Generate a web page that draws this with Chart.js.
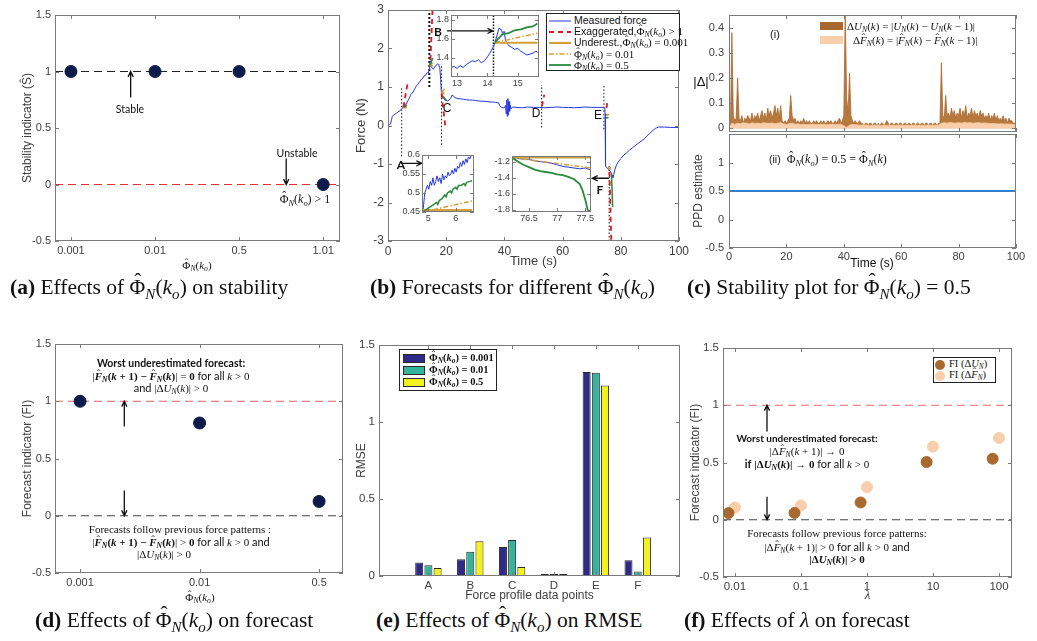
<!DOCTYPE html>
<html>
<head>
<meta charset="utf-8">
<script src="https://cdn.jsdelivr.net/npm/chart.js@4.4.1/dist/chart.umd.min.js"></script>
<style>
  body { margin: 0; background: #fff; }
  #fig { position: relative; width: 1037px; height: 641px; overflow: hidden; background: #fff; font-family: 'Liberation Sans', Arial, sans-serif; color: #111; }
  #fig canvas { position: absolute; }
  .ov { position: absolute; white-space: nowrap; line-height: 1; transform: translate(-50%, -50%); }
  .m { font-family: 'Liberation Serif', 'DejaVu Serif', serif; }
  .lab { font-family: Lato, 'Open Sans', sans-serif; }
  .cap { font-family: 'Liberation Serif', serif; font-size: 21.5px; transform: translate(0, -50%); }
  sub { font-size: 70%; vertical-align: -0.3em; line-height: 0; }
  .hat { position: relative; display: inline-block; }
  .hat::after { content: '\02C6'; position: absolute; left: 50%; top: -0.28em; transform: translateX(-45%); font-style: normal; font-weight: normal; }
  .leg { position: absolute; background: #fff; border: 1px solid #222; box-sizing: border-box; }
</style>
</head>
<body>
<div id="fig"></div>
<script>
// ---------- data ----------
// (a) stability indicator
const aLabels = ['0.001', '0.01', '0.5', '1.01'];
const aStability = [1, 1, 1, 0];
const aStableLevel = 1, aUnstableLevel = 0;

// (b) measured force (t, N)
const forcePts = [[0,0.02],[0.5,0.03],[0.9,0.04],[1.2,0.15],[1.5,0.24],[2,0.28],[2.5,0.3],[3,0.32],[3.5,0.36],[4,0.37],[4.5,0.42],[5,0.45],[5.3,0.5],[5.6,0.5],[6,0.56],[6.3,0.55],[6.6,0.61],[7,0.66],[7.4,0.72],[7.8,0.8],[8.2,0.84],[8.6,0.86],[9,0.93],[9.4,0.98],[9.8,1.04],[10.2,1.06],[10.6,1.12],[11,1.14],[11.4,1.2],[11.8,1.21],[12.2,1.26],[12.6,1.3],[13,1.31],[13.3,1.36],[13.6,1.37],[13.9,1.36],[14.1,1.46],[14.3,1.55],[14.5,1.68],[14.7,1.62],[14.9,1.52],[15.2,1.49],[15.6,1.46],[16,1.52],[16.5,1.56],[17,1.6],[17.4,1.59],[17.8,1.5],[18.1,1.2],[18.3,0.9],[18.6,0.8],[19,0.72],[19.5,0.66],[20,0.65],[20.5,0.64],[21,0.66],[21.5,0.7],[22,0.79],[22.5,0.77],[23,0.72],[24,0.7],[25,0.69],[26,0.68],[27,0.67],[28,0.66],[29,0.66],[30,0.65],[31,0.64],[32,0.63],[33,0.63],[34,0.62],[35,0.61],[36,0.61],[37,0.6],[38,0.59],[38.5,0.5],[39,0.47],[39.5,0.46],[40,0.46],[40.4,0.52],[40.6,0.3],[40.8,0.66],[41,0.24],[41.2,0.7],[41.4,0.28],[41.6,0.62],[41.8,0.37],[42,0.53],[42.3,0.43],[42.8,0.48],[44,0.47],[46,0.46],[48,0.48],[50,0.47],[52,0.47],[54,0.46],[56,0.47],[58,0.48],[60,0.47],[62,0.47],[64,0.46],[66,0.47],[68,0.48],[70,0.47],[72,0.47],[74,0.47],[74.5,0.46],[74.6,0.3],[74.7,-0.3],[74.8,-1.05],[75.2,-1.1],[75.6,-1.12],[76,-1.15],[76.5,-1.2],[77,-1.29],[77.3,-1.35],[77.6,-1.27],[78,-1.14],[78.5,-1.03],[79,-0.96],[80,-0.86],[81,-0.77],[82,-0.71],[83,-0.64],[84,-0.58],[85,-0.52],[86,-0.46],[87,-0.41],[88,-0.35],[89,-0.27],[90,-0.2],[91,-0.13],[92,-0.07],[93,-0.04],[95,-0.04],[97,-0.05],[100,-0.05]];
// forecast segments [t0, y0, t1, y1]
const exagSegs = [[5.3,0.48,6.8,1.13],[14.6,1.7,15.4,3.2],[18.4,0.83,19.8,-0.1],[52.9,0.5,53.7,0.8],[75.1,0.45,75.4,0.65],[76.1,-1.2,76.8,-3.2]];
const under001Segs = [[5.3,0.47,6.5,0.47],[14.3,1.55,15.4,1.55],[18.4,0.84,19.4,0.84],[74.9,0.27,75.8,0.27],[75.6,-1.1,76.6,-1.1]];
const under01Segs = [[5.3,0.47,6.5,0.5],[14.3,1.55,15.4,1.63],[18.4,0.85,19.6,0.97],[74.9,0.25,75.8,0.3],[75.8,-1.1,76.6,-1.15]];
const phi05Segs = [[5.3,0.47,6.5,0.53],[14.3,1.55,15.4,1.75],[18.4,0.8,20,0.66],[74.9,0.2,75.8,0.2],[76.8,-1.25,77.2,-2.12]];
// forecast start markers [t, yFrom, yTo]
const markerLines = [[4.7,-0.8,0.97],[18.4,-0.5,1.6],[52.8,-0.05,1.05],[74.2,-0.1,1.05],[76,-3,-1.03]];
const markerB = [[14.2,1.0,3]];
// inset A
const insAForce = [[4.8,0.45],[4.83,0.47],[4.87,0.5],[4.92,0.51],[4.97,0.52],[5.02,0.51],[5.07,0.53],[5.12,0.52],[5.17,0.54],[5.22,0.52],[5.27,0.53],[5.32,0.545],[5.37,0.53],[5.42,0.54],[5.47,0.525],[5.52,0.55],[5.57,0.535],[5.62,0.545],[5.67,0.54],[5.72,0.555],[5.77,0.545],[5.82,0.55],[5.87,0.56],[5.92,0.55],[5.97,0.565],[6.02,0.555],[6.07,0.57],[6.12,0.565],[6.17,0.58],[6.22,0.57],[6.27,0.585],[6.32,0.575],[6.37,0.59],[6.42,0.58],[6.47,0.595],[6.52,0.59],[6.57,0.6],[6.62,0.605]];
const insAPhi05 = [[4.8,0.45],[4.9,0.455],[5.0,0.46],[5.1,0.465],[5.2,0.47],[5.3,0.475],[5.35,0.47],[5.4,0.48],[5.5,0.485],[5.6,0.495],[5.65,0.49],[5.7,0.5],[5.8,0.505],[5.85,0.5],[5.9,0.51],[6.0,0.515],[6.05,0.51],[6.1,0.52],[6.2,0.52],[6.3,0.525],[6.35,0.52],[6.4,0.528],[6.5,0.53],[6.6,0.532]];
const insAUnder01 = [[4.8,0.45],[6.6,0.479]];
const insAUnder001 = [[4.8,0.455],[6.6,0.455]];
// inset B
const insBForce = [[12.8,1.3],[12.9,1.31],[13,1.29],[13.1,1.32],[13.2,1.3],[13.3,1.33],[13.4,1.35],[13.5,1.37],[13.6,1.36],[13.7,1.38],[13.8,1.35],[13.9,1.37],[14.0,1.41],[14.1,1.46],[14.2,1.52],[14.25,1.56],[14.3,1.62],[14.38,1.71],[14.45,1.7],[14.5,1.66],[14.55,1.68],[14.6,1.58],[14.7,1.53],[14.8,1.51],[14.9,1.49],[15.0,1.5],[15.1,1.47],[15.2,1.45],[15.3,1.43],[15.4,1.44],[15.5,1.45],[15.6,1.47],[15.65,1.46]];
const insBPhi05 = [[14.25,1.56],[14.35,1.6],[14.5,1.65],[14.7,1.66],[14.9,1.69],[15.1,1.7],[15.3,1.72],[15.5,1.73],[15.65,1.76]];
const insBUnder01 = [[14.25,1.56],[15.65,1.66]];
const insBUnder001 = [[14.25,1.56],[15.65,1.56]];
const insBMarker = [[14.2,1.2,1.85]];
// inset F
const insFForce = [[76.2,-1.15],[76.3,-1.16],[76.4,-1.17],[76.5,-1.17],[76.6,-1.19],[76.7,-1.2],[76.8,-1.21],[76.9,-1.22],[77.0,-1.24],[77.1,-1.26],[77.2,-1.27],[77.3,-1.28],[77.4,-1.29],[77.5,-1.28],[77.58,-1.3]];
const insFPhi05 = [[76.2,-1.15],[76.3,-1.2],[76.4,-1.24],[76.5,-1.27],[76.6,-1.3],[76.7,-1.32],[76.8,-1.33],[76.9,-1.34],[77.0,-1.36],[77.1,-1.37],[77.2,-1.39],[77.3,-1.42],[77.4,-1.48],[77.45,-1.56],[77.5,-1.68],[77.55,-1.83]];
const insFUnder01 = [[76.2,-1.15],[77.6,-1.28]];
const insFUnder001 = [[76.2,-1.15],[77.6,-1.15]];

// (c) stability plot, sampled every 0.5 s from t = 0
const cStep = 0.5;
const deltaU = [
  0, 0.01, 0.38, 0.05, 0.03, 0.04, 0.2, 0.04, 0.03, 0.05, 0.02, 0.04, 0.03, 0.05, 0.04, 0.03, 0.06, 0.03, 0.05, 0.04,
  0.06, 0.03, 0.05, 0.07, 0.04, 0.06, 0.03, 0.08, 0.05, 0.07, 0.04, 0.06, 0.09, 0.05, 0.08, 0.04, 0.09, 0.03, 0.02, 0.03,
  0.02, 0.03, 0.04, 0.13, 0.05, 0.03, 0.04, 0.02, 0.03, 0.02, 0.03, 0.02, 0.04, 0.02, 0.03, 0.02, 0.03, 0.02, 0.02, 0.03,
  0.02, 0.03, 0.02, 0.02, 0.03, 0.02, 0.03, 0.02, 0.02, 0.03, 0.02, 0.03, 0.02, 0.02, 0.03, 0.02, 0.03, 0.04, 0.02, 0.03,
  0.05, 0.46, 0.12, 0.06, 0.22, 0.05, 0.03, 0.02, 0.03, 0.02, 0.02, 0.03, 0.02, 0.02, 0.01, 0.02, 0.02, 0.01, 0.02, 0.02,
  0.01, 0.02, 0.02, 0.01, 0.02, 0.01, 0.02, 0.02, 0.01, 0.02, 0.03, 0.02, 0.01, 0.02, 0.02, 0.01, 0.02, 0.02, 0.01, 0.02,
  0.02, 0.01, 0.02, 0.02, 0.01, 0.02, 0.02, 0.01, 0.02, 0.02, 0.01, 0.02, 0.02, 0.01, 0.02, 0.02, 0.01, 0.02, 0.02, 0.01,
  0.02, 0.02, 0.01, 0.02, 0.02, 0.01, 0.02, 0.02, 0.26, 0.05, 0.04, 0.13, 0.05, 0.06, 0.04, 0.08, 0.05, 0.07, 0.04, 0.06,
  0.05, 0.08, 0.04, 0.07, 0.05, 0.09, 0.04, 0.06, 0.05, 0.08, 0.04, 0.07, 0.05, 0.06, 0.04, 0.07, 0.05, 0.06, 0.04, 0.05,
  0.04, 0.06, 0.03, 0.05, 0.04, 0.06, 0.03, 0.05, 0.03, 0.04, 0.03, 0.05, 0.03, 0.04, 0.02, 0.04, 0.03, 0.03, 0.02, 0.02, 0.015
];
const deltaFStep = 1;
const deltaF = [
  0, 0.02, 0.015, 0.02, 0.018, 0.022, 0.02, 0.017, 0.021, 0.019,
  0.02, 0.018, 0.022, 0.02, 0.019, 0.021, 0.018, 0.02, 0.022, 0.017,
  0.015, 0.018, 0.02, 0.016, 0.017, 0.015, 0.016, 0.014, 0.015, 0.016,
  0.015, 0.014, 0.016, 0.015, 0.014, 0.015, 0.016, 0.014, 0.015, 0.016,
  0.01, 0.003, 0.012, 0.015, 0.014, 0.013, 0.012, 0.013, 0.012, 0.011,
  0.011, 0.012, 0.012, 0.011, 0.012, 0.011, 0.012, 0.012, 0.011, 0.012,
  0.012, 0.011, 0.012, 0.011, 0.012, 0.012, 0.011, 0.012, 0.011, 0.012,
  0.012, 0.011, 0.012, 0.012, 0.02, 0.022, 0.02, 0.023, 0.021, 0.02,
  0.022, 0.02, 0.023, 0.021, 0.022, 0.02, 0.021, 0.022, 0.02, 0.021,
  0.02, 0.018, 0.019, 0.018, 0.017, 0.018, 0.016, 0.017, 0.016, 0.015, 0.012
];
const ppdT = [0, 100];
const ppdVal = [0.5, 0.5];

// (d) forecast indicator
const dLabels = ['0.001', '0.01', '0.5'];
const dFI = [1.0, 0.81, 0.125];
const dWorst = 1, dFollow = 0;

// (e) RMSE per force profile data point
const eCats = ['A', 'B', 'C', 'D', 'E', 'F'];
const rmse001 = [0.087, 0.109, 0.189, 0.006, 1.324, 0.102];
const rmse01 = [0.07, 0.157, 0.233, 0.01, 1.32, 0.03];
const rmse05 = [0.052, 0.226, 0.059, 0.007, 1.237, 0.25];

// (f) effect of lambda
const fLamU = [0.008, 0.08, 0.8, 8, 80];
const fFIU = [0.058, 0.06, 0.151, 0.504, 0.533];
const fLamF = [0.01, 0.1, 1, 10, 100];
const fFIF = [0.107, 0.125, 0.285, 0.638, 0.714];
const fTicks = [0.01, 0.1, 1, 10, 100];

// ---------- helpers ----------
Chart.defaults.font.family = "'Liberation Sans', Arial, sans-serif";
Chart.defaults.color = '#404040';
Chart.defaults.plugins.legend.display = false;
Chart.defaults.plugins.tooltip.enabled = false;
Chart.defaults.events = [];

const BLUE = '#2436e0', RED = '#e8141c', ORANGE = '#d4a03a', GREEN = '#2a8a3c';
const NAVY = '#0d1b4b', BROWN = '#a8682f', PEACH = '#f8cfaa';

// box + inward ticks, like the original axes
const frame = {
  id: 'frame',
  beforeDraw(c, a, o) {
    if (!o.fill) return;
    const ca = c.chartArea;
    c.ctx.save(); c.ctx.fillStyle = o.fill; c.ctx.fillRect(ca.left, ca.top, ca.width, ca.height); c.ctx.restore();
  },
  afterDraw(c, a, o) {
    const ctx = c.ctx, ca = c.chartArea, tl = 4;
    ctx.save();
    ctx.strokeStyle = '#7a7a7a'; ctx.lineWidth = 1; ctx.setLineDash([]);
    ctx.strokeRect(Math.round(ca.left) + 0.5, Math.round(ca.top) + 0.5, Math.round(ca.width) - 1, Math.round(ca.height) - 1);
    ctx.beginPath();
    const xs = c.scales.x, ys = c.scales.y;
    xs.ticks.forEach(t => {
      const p = Math.round(xs.getPixelForValue(t.value)) + 0.5;
      ctx.moveTo(p, ca.bottom); ctx.lineTo(p, ca.bottom - tl);
      ctx.moveTo(p, ca.top); ctx.lineTo(p, ca.top + tl);
    });
    ys.ticks.forEach(t => {
      const p = Math.round(ys.getPixelForValue(t.value)) + 0.5;
      ctx.moveTo(ca.left, p); ctx.lineTo(ca.left + tl, p);
      ctx.moveTo(ca.right, p); ctx.lineTo(ca.right - tl, p);
    });
    ctx.stroke();
    ctx.restore();
  }
};

// arrows given in data coordinates
const marks = {
  id: 'marks',
  afterDatasetsDraw(c, a, o) {
    const ctx = c.ctx, xs = c.scales.x, ys = c.scales.y;
    (o.arrows || []).forEach(m => {
      const x1 = xs.getPixelForValue(m[0]), y1 = ys.getPixelForValue(m[1]);
      const x2 = xs.getPixelForValue(m[2]), y2 = ys.getPixelForValue(m[3]);
      const ang = Math.atan2(y2 - y1, x2 - x1), L = 6, s = 0.45;
      ctx.save();
      ctx.strokeStyle = '#111'; ctx.lineWidth = 1.3; ctx.setLineDash([]);
      ctx.beginPath();
      ctx.moveTo(x1, y1); ctx.lineTo(x2, y2);
      ctx.moveTo(x2 - L * Math.cos(ang - s), y2 - L * Math.sin(ang - s));
      ctx.lineTo(x2, y2);
      ctx.lineTo(x2 - L * Math.cos(ang + s), y2 - L * Math.sin(ang + s));
      ctx.stroke();
      ctx.restore();
    });
  }
};
Chart.register(frame, marks);

const fig = document.getElementById('fig');

function panel(box, area, cfg) {
  const cv = document.createElement('canvas');
  const w = box[2] - box[0], h = box[3] - box[1];
  cv.width = w; cv.height = h;
  cv.style.left = box[0] + 'px'; cv.style.top = box[1] + 'px';
  cv.style.width = w + 'px'; cv.style.height = h + 'px';
  fig.appendChild(cv);
  const o = cfg.options;
  o.responsive = false; o.animation = false; o.devicePixelRatio = 1;
  o.layout = { padding: { left: 0, top: area.t - box[1], right: box[2] - area.r, bottom: 0 } };
  const xh = box[3] - area.b, yw = area.l - box[0];
  o.scales.x.afterFit = s => { s.height = xh; s.paddingLeft = 0; s.paddingRight = 0; };
  o.scales.y.afterFit = s => { s.width = yw; s.paddingTop = 0; s.paddingBottom = 0; };
  return new Chart(cv, cfg);
}

function axis(min, max, ticks, o = {}) {
  return {
    type: o.type || 'linear', min, max, offset: false,
    grid: { display: false, drawTicks: false },
    border: { display: false },
    afterBuildTicks: s => { s.ticks = ticks.map(v => ({ value: v })); },
    ticks: {
      display: o.labels !== false, padding: o.pad ?? 4, autoSkip: false, maxRotation: 0,
      font: { size: o.size || 11 }, color: '#404040',
      callback: o.fmt || (v => String(v))
    },
    title: o.title ? { display: true, text: o.title, color: '#404040', font: Object.assign({ size: 12 }, o.tfont || {}), padding: o.tpad || 0 } : { display: false }
  };
}

const P = a => a.map(p => ({ x: p[0], y: p[1] }));
const XY = (xs, ys) => xs.map((x, i) => ({ x, y: ys[i] }));
const SEG = a => a.flatMap(s => [{ x: s[0], y: s[1] }, { x: s[2], y: s[3] }, { x: s[2], y: null }]);
const VSEG = a => a.flatMap(s => [{ x: s[0], y: s[1] }, { x: s[0], y: s[2] }, { x: s[0], y: null }]);

function line(data, color, width, dash, extra) {
  return Object.assign({ type: 'line', data, borderColor: color, backgroundColor: color, borderWidth: width,
    borderDash: dash || [], pointRadius: 0, tension: 0, spanGaps: false, fill: false }, extra || {});
}
function dots(data, color, r, extra) {
  return Object.assign({ type: 'line', data, showLine: false, pointRadius: r, pointBackgroundColor: color,
    pointBorderColor: color, borderColor: color, backgroundColor: color }, extra || {});
}

// ---------- (a) ----------
const aMin = 0.81, aMax = 4.2;
panel([0, 0, 350, 280], { l: 55, t: 15, r: 340, b: 241 }, {
  type: 'line',
  data: { datasets: [
    dots(XY([1, 2, 3, 4], aStability), NAVY, 6, { order: 0 }),
    line(XY([aMin, aMax], [aStableLevel, aStableLevel]), '#222', 1.2, [8, 5], { order: 1 }),
    line(XY([aMin, aMax], [aUnstableLevel, aUnstableLevel]), '#e8302c', 1.2, [8, 5], { order: 1 })
  ] },
  options: {
    scales: {
      x: axis(aMin, aMax, [1, 2, 3, 4], { pad: 3, fmt: v => aLabels[v - 1] }),
      y: axis(-0.5, 1.5, [-0.5, 0, 0.5, 1, 1.5], { title: 'Stability indicator (\u015C)', tpad: { top: 20 } })
    },
    plugins: { marks: { arrows: [[1.71, 0.77, 1.71, 1.0], [3.56, 0.23, 3.56, 0.0]] } }
  }
});

// ---------- (b) main ----------
const bSeries = [
  line(VSEG(markerLines), '#111', 1, [1.5, 2], { order: 9 }),
  line(VSEG(markerB), '#111', 2, [2, 2], { order: 9 }),
  line(P(forcePts), BLUE, 1, [], { order: 5 }),
  line(SEG(under001Segs), ORANGE, 2, [], { order: 4 }),
  line(SEG(under01Segs), ORANGE, 1.5, [5, 2, 1.5, 2], { order: 3 }),
  line(SEG(phi05Segs), GREEN, 1.5, [], { order: 2 }),
  line(SEG(exagSegs), RED, 1.8, [5, 4], { order: 1 })
];
panel([350, 0, 690, 280], { l: 388, t: 10, r: 679, b: 241 }, {
  type: 'line',
  data: { datasets: bSeries },
  options: {
    scales: {
      x: axis(0, 100, [0, 20, 40, 60, 80, 100], { size: 12, pad: 3, title: 'Time (s)', tfont: { size: 13 }, tpad: { top: 0, bottom: 11 } }),
      y: axis(-3, 3, [-3, -2, -1, 0, 1, 2, 3], { size: 12, title: 'Force (N)', tfont: { size: 13 }, tpad: { top: 4 } })
    },
    plugins: { marks: { arrows: [[75.9, -1.37, 70.2, -1.37]] } }
  }
});

// insets
function inset(box, area, xr, yr, xt, yt, sets, arrows) {
  return panel(box, area, {
    type: 'line',
    data: { datasets: sets },
    options: {
      scales: {
        x: axis(xr[0], xr[1], xt, { size: 9, pad: 1 }),
        y: axis(yr[0], yr[1], yt, { size: 9, pad: 2 })
      },
      plugins: { frame: { fill: '#fff' }, marks: { arrows: arrows || [] } }
    }
  });
}
inset([434, 12, 541, 92], { l: 451, t: 15, r: 539, b: 77 }, [12.8, 15.7], [1.2, 1.85], [13, 14, 15], [1.4, 1.6, 1.8], [
  line(VSEG(insBMarker), '#111', 1.5, [1.5, 1.5], { order: 9 }),
  line(P(insBForce), BLUE, 1, [], { order: 5 }),
  line(P(insBUnder001), ORANGE, 2, [], { order: 4 }),
  line(P(insBUnder01), ORANGE, 1.5, [5, 2, 1.5, 2], { order: 3 }),
  line(P(insBPhi05), GREEN, 1.8, [], { order: 2 })
], [[12.67, 1.683, 14.18, 1.683]]);
inset([400, 150, 478, 225], { l: 422, t: 155, r: 474, b: 212 }, [4.77, 6.67], [0.45, 0.6], [5, 6], [0.45, 0.5, 0.55, 0.6], [
  line(P(insAForce), BLUE, 1, [], { order: 5 }),
  line(P(insAUnder001), ORANGE, 2, [], { order: 4 }),
  line(P(insAUnder01), ORANGE, 1.5, [5, 2, 1.5, 2], { order: 3 }),
  line(P(insAPhi05), GREEN, 1.5, [], { order: 2 })
], [[4.0, 0.578, 4.76, 0.578]]);
inset([492, 150, 595, 225], { l: 512, t: 156, r: 591, b: 212 }, [76.2, 77.6], [-1.83, -1.13], [76.5, 77, 77.5], [-1.8, -1.6, -1.4, -1.2], [
  line(P(insFForce), BLUE, 1, [], { order: 5 }),
  line(P(insFUnder001), ORANGE, 2, [], { order: 4 }),
  line(P(insFUnder01), ORANGE, 1.5, [5, 2, 1.5, 2], { order: 3 }),
  line(P(insFPhi05), GREEN, 1.8, [], { order: 2 })
]);

// ---------- (c) ----------
const tickC = [0, 20, 40, 60, 80, 100];
panel([690, 0, 1037, 133], { l: 729, t: 15, r: 1016, b: 132 }, {
  type: 'line',
  data: { datasets: [
    line(deltaF.map((v, i) => ({ x: i * deltaFStep, y: v })), PEACH, 0.8, [], { fill: 'origin', order: 0 }),
    line(deltaU.map((v, i) => ({ x: i * cStep, y: v })), BROWN, 0.8, [], { fill: 'origin', backgroundColor: '#b8793d', order: 1 })
  ] },
  options: {
    scales: {
      x: axis(0, 100, tickC, { labels: false }),
      y: axis(-0.015, 0.45, [0, 0.1, 0.2, 0.3, 0.4], { pad: 5 })
    }
  }
});
panel([690, 133, 1037, 285], { l: 729, t: 134, r: 1016, b: 248 }, {
  type: 'line',
  data: { datasets: [ line(XY(ppdT, ppdVal), '#2a7fd0', 2) ] },
  options: {
    scales: {
      x: axis(0, 100, tickC, { pad: 2 }),
      y: axis(-0.5, 1.5, [-0.5, 0, 0.5, 1], { pad: 5, title: 'PPD estimate', tpad: { top: 1 } })
    }
  }
});

// ---------- (d) ----------
const dMin = 0.79, dMax = 3.2;
panel([0, 320, 350, 605], { l: 55, t: 344, r: 345, b: 573 }, {
  type: 'line',
  data: { datasets: [
    dots(XY([1, 2, 3], dFI), NAVY, 6, { order: 0 }),
    line(XY([dMin, dMax], [dWorst, dWorst]), '#e06060', 1.2, [8, 5], { order: 1 }),
    line(XY([dMin, dMax], [dFollow, dFollow]), '#444', 1.2, [8, 5], { order: 1 })
  ] },
  options: {
    scales: {
      x: axis(dMin, dMax, [1, 2, 3], { pad: 3, fmt: v => dLabels[v - 1] }),
      y: axis(-0.5, 1.5, [-0.5, 0, 0.5, 1, 1.5], { title: 'Forecast indicator (FI)', tpad: { top: 20 } })
    },
    plugins: { marks: { arrows: [[1.37, 0.78, 1.37, 1.0], [1.37, 0.22, 1.37, 0.0]] } }
  }
});

// ---------- (e) ----------
const eColors = ['#2e2a85', '#36b39c', '#f4f21c'];
panel([350, 320, 690, 605], { l: 379, t: 345, r: 680, b: 576 }, {
  type: 'bar',
  data: { datasets: [rmse001, rmse01, rmse05].map((arr, i) => ({
    data: arr.map((v, j) => ({ x: j + 1, y: v })),
    backgroundColor: eColors[i], borderColor: '#2a2a2a', borderWidth: 1, minBarLength: 2,
    categoryPercentage: 0.66, barPercentage: 0.87
  })) },
  options: {
    scales: {
      x: axis(-0.18, 7.01, [1, 2, 3, 4, 5, 6], { size: 11.5, pad: 3, fmt: v => eCats[v - 1], title: 'Force profile data points', tfont: { size: 12 }, tpad: { top: 0, bottom: 2 } }),
      y: axis(0, 1.5, [0, 0.5, 1, 1.5], { size: 11.5, title: 'RMSE', tpad: { top: 4 } })
    }
  }
});

// ---------- (f) ----------
const fMin = 0.0066, fMax = 157;
panel([690, 320, 1037, 605], { l: 723, t: 348, r: 1012, b: 577 }, {
  type: 'line',
  data: { datasets: [
    dots(XY(fLamU, fFIU), BROWN, 5.5, { order: 0 }),
    dots(XY(fLamF, fFIF), PEACH, 5.5, { order: 0 }),
    line(XY([fMin, fMax], [1, 1]), '#e86a6a', 1.2, [8, 5], { order: 1 }),
    line(XY([fMin, fMax], [0, 0]), '#444', 1.2, [8, 5], { order: 1 })
  ] },
  options: {
    scales: {
      x: axis(fMin, fMax, fTicks, { type: 'logarithmic', size: 11.5, pad: 3, title: '\u03BB', tfont: { size: 13, style: 'italic', family: "'Liberation Serif', serif" }, tpad: { top: 0, bottom: 2 } }),
      y: axis(-0.5, 1.5, [-0.5, 0, 0.5, 1, 1.5], { size: 11.5, title: 'Forecast indicator (FI)', tfont: { size: 12, lineHeight: 1 }, tpad: { top: 0 } })
    },
    plugins: { marks: { arrows: [[0.0306, 0.77, 0.0306, 1.0], [0.0306, 0.2, 0.0306, 0.0]] } }
  }
});

// ---------- text overlays ----------
const PHI = '<span class="hat">&Phi;</span><sub><i>N</i></sub>(<i>k<sub>o</sub></i>)';
const FH = '<i class="hat">F</i><sub><i>N</i></sub>';
const UN = '<i>U</i><sub><i>N</i></sub>';

function txt(x, y, html, style, cls) {
  const d = document.createElement('div');
  d.className = 'ov ' + (cls || '');
  d.style.cssText = 'left:' + x + 'px;top:' + y + 'px;' + (style || '');
  d.innerHTML = html;
  fig.appendChild(d);
  return d;
}
const LEFT = 'transform:translate(0,-50%);';

// (a)
txt(130, 109, 'Stable', 'font-size:10.5px', 'lab');
txt(297, 153, 'Unstable', 'font-size:10.5px', 'lab');
txt(305, 199, PHI + ' &gt; 1', 'font-size:12px', 'm');
txt(197, 265, PHI, 'font-size:11px', 'm');

// (b)
txt(438, 32, '<b>B</b>', 'font-size:12px', 'lab');
txt(401, 165, '<b>A</b>', 'font-size:12px', 'lab');
txt(447, 108, 'C', 'font-size:12px');
txt(536, 113, 'D', 'font-size:12px');
txt(598, 115, 'E', 'font-size:12px');
txt(600, 190, '<b>F</b>', 'font-size:12px', 'lab');

const legB = document.createElement('div');
legB.className = 'leg';
legB.style.cssText = 'left:546px;top:13px;width:134px;height:58px;';
const legBRows = [
  [BLUE, 1, '', 'Measured force'],
  [RED, 1.8, '5,4', 'Exaggerated,' + PHI + ' &gt; 1'],
  [ORANGE, 2.2, '', 'Underest.,' + PHI + ' = 0.001'],
  [ORANGE, 1.5, '5,2,1.5,2', PHI + ' = 0.01'],
  [GREEN, 1.8, '', PHI + ' = 0.5']
];
legB.innerHTML = legBRows.map((r, i) =>
  '<div style="position:absolute;left:1px;top:' + (1 + i * 11.2) + 'px;height:11px;display:flex;align-items:center;font-size:10.5px;line-height:1;white-space:nowrap">' +
  '<svg width="24" height="8" style="margin-right:2px"><line x1="1" y1="4" x2="23" y2="4" stroke="' + r[0] + '" stroke-width="' + r[1] + '" stroke-dasharray="' + r[2] + '"/></svg>' +
  '<span>' + r[3].replace(/(<span class="hat">.*)/, '<span class="m" style="font-size:11px">$1</span>') + '</span></div>').join('');
fig.appendChild(legB);

// (c)
txt(775, 34, '(i)', 'font-size:11px');
txt(701, 81, '|&Delta;|', 'font-size:13px');
txt(820, 26, '', LEFT + 'width:23px;height:8px;background:#a8682f');
txt(820, 40, '', LEFT + 'width:23px;height:8px;background:' + PEACH);
txt(847, 26, '&Delta;' + UN + '(<i>k</i>) = |' + UN + '(<i>k</i>) &minus; ' + UN + '(<i>k</i> &minus; 1)|', LEFT + 'font-size:11px', 'm');
txt(853, 40, '&Delta;' + FH + '(<i>k</i>) = |' + FH + '(<i>k</i>) &minus; ' + FH + '(<i>k</i> &minus; 1)|', LEFT + 'font-size:11px', 'm');
txt(769, 159, '<span style="font-family:Liberation Sans;font-size:10.5px">(ii)</span>&nbsp; ' + PHI + ' = 0.5 = <span class="hat">&Phi;</span><sub><i>N</i></sub>(<i>k</i>)', LEFT + 'font-size:12px', 'm');
txt(872, 263, 'Time (s)', 'font-size:12px');

// (d)
txt(171, 363, 'Worst underestimated forecast:', 'font-size:10.5px;font-weight:bold', 'lab');
txt(171, 376, '|<b>' + FH + '(<i>k</i> + 1) &minus; ' + FH + '(<i>k</i>)</b>| = <b>0</b> <span class="lab">for all</span> <i>k</i> &gt; 0', 'font-size:11px', 'm');
txt(171, 388, '<span class="lab">and</span> |&Delta;' + UN + '(<i>k</i>)| &gt; 0', 'font-size:11px', 'm');
txt(180, 529, 'Forecasts follow previous force patterns :', 'font-size:11px', 'm');
txt(181, 542, '|<b>' + FH + '(<i>k</i> + 1) &minus; ' + FH + '(<i>k</i>)</b>| &gt; <b>0</b> <span class="lab">for all</span> <i>k</i> &gt; 0 <span class="lab">and</span>', 'font-size:11px', 'm');
txt(164, 554, '|&Delta;' + UN + '(<i>k</i>)| &gt; 0', 'font-size:11px', 'm');
txt(200, 597, PHI, 'font-size:11px', 'm');

// (e) legend
const legE = document.createElement('div');
legE.className = 'leg';
legE.style.cssText = 'left:399px;top:349px;width:98px;height:42px;';
legE.innerHTML = ['0.001', '0.01', '0.5'].map((v, i) =>
  '<div style="position:absolute;left:3px;top:' + (2 + i * 12) + 'px;height:12px;display:flex;align-items:center;white-space:nowrap">' +
  '<span style="display:inline-block;width:20px;height:7px;background:' + eColors[i] + ';border:1px solid #2a2a2a;margin-right:4px"></span>' +
  '<span class="m" style="font-size:10.5px;font-weight:bold;line-height:1">' + PHI + ' = ' + v + '</span></div>').join('');
fig.appendChild(legE);

// (f)
txt(807, 438, 'Worst underestimated forecast:', 'font-size:10px;font-weight:bold', 'lab');
txt(807, 451, '|&Delta;' + FH + '(<i>k</i> + 1)| &rarr; 0', 'font-size:11px', 'm');
txt(807, 464, '<b class="lab">if</b> <b>|&Delta;' + UN + '(<i>k</i>)|</b> &rarr; <b>0</b> <span class="lab">for all</span> <i>k</i> &gt; 0', 'font-size:11px', 'm');
txt(837, 533, 'Forecasts follow previous force patterns:', 'font-size:11px', 'm');
txt(837, 547, '|&Delta;' + FH + '(<i>k</i> + 1)| &gt; 0 <span class="lab">for all</span> <i>k</i> &gt; 0 <span class="lab">and</span>', 'font-size:11px', 'm');
txt(837, 559, '<b>|&Delta;' + UN + '(<i>k</i>)| &gt; 0</b>', 'font-size:11px', 'm');

const legF = document.createElement('div');
legF.className = 'leg';
legF.style.cssText = 'left:933px;top:357px;width:63px;height:26px;';
legF.innerHTML = [[BROWN, UN], [PEACH, FH]].map((r, i) =>
  '<div style="position:absolute;left:1px;top:' + (1 + i * 11) + 'px;height:11px;display:flex;align-items:center;white-space:nowrap">' +
  '<span style="display:inline-block;width:10px;height:10px;border-radius:50%;background:' + r[0] + ';margin-right:4px"></span>' +
  '<span class="m" style="font-size:10.5px;line-height:1">FI (&Delta;' + r[1] + ')</span></div>').join('');
fig.appendChild(legF);

// captions
txt(10, 288, '<b>(a)</b> Effects of ' + PHI + ' on stability', '', 'cap');
txt(370, 288, '<b>(b)</b> Forecasts for different ' + PHI, '', 'cap');
txt(687, 288, '<b>(c)</b> Stability plot for ' + PHI + ' = 0.5', '', 'cap');
txt(35, 621, '<b>(d)</b> Effects of ' + PHI + ' on forecast', '', 'cap');
txt(376, 621, '<b>(e)</b> Effects of ' + PHI + ' on RMSE', '', 'cap');
txt(684, 621, '<b>(f)</b> Effects of <i>&lambda;</i> on forecast', '', 'cap');
</script>
</body>
</html>
